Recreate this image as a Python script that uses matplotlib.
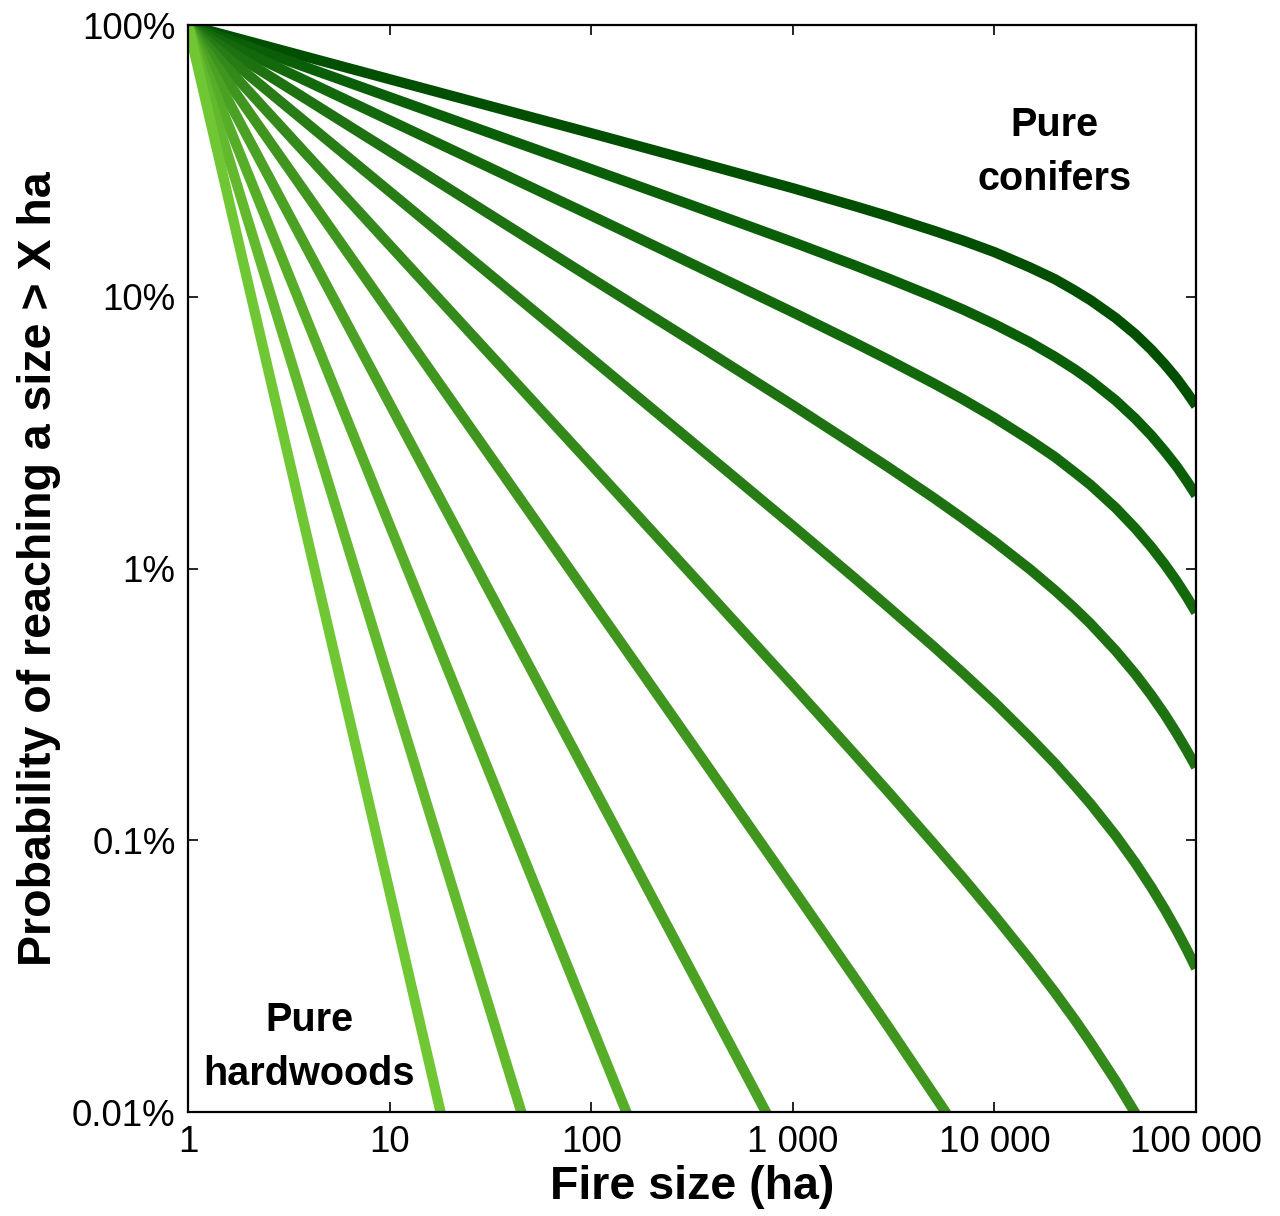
import matplotlib
matplotlib.use("Agg")
import matplotlib.pyplot as plt
import numpy as np

plt.rcParams['font.family'] = ['Liberation Sans', 'DejaVu Sans']

# fire size grid (ha) shared by all curves
fire_size = [1, 10, 100, 300, 1000, 2000, 3000, 5000, 7000, 10000, 15000,
             20000, 25000, 30000, 40000, 50000, 60000, 70000, 80000, 90000, 100000]

# probability (%) of reaching a size > X
# from pure conifers (top) to pure hardwoods (bottom); None = off the chart
N = None
p_conif_100 = [100, 63.2, 40.0, 32.05, 25.1, 21.63, 19.76, 17.5, 16.09, 14.6, 12.83,
               11.6, 10.55, 9.71, 8.35, 7.28, 6.39, 5.64, 5.01, 4.45, 3.97]
p_conif_90 = [100, 54.3, 29.5, 22.0, 15.9, 13.1, 11.65, 9.99, 8.97, 7.93, 6.80,
              6.01, 5.41, 4.92, 4.15, 3.56, 3.09, 2.70, 2.38, 2.10, 1.86]
p_conif_80 = [100, 44.6, 19.9, 13.47, 8.77, 6.81, 5.85, 4.80, 4.19, 3.59, 2.97,
              2.57, 2.26, 2.03, 1.67, 1.405, 1.20, 1.035, 0.90, 0.786, 0.690]
p_conif_70 = [100, 34.3, 11.7, 7.03, 3.99, 2.86, 2.35, 1.82, 1.526, 1.257, 0.994,
              0.830, 0.714, 0.626, 0.498, 0.409, 0.342, 0.290, 0.248, 0.214, 0.186]
p_conif_60 = [100, 24.4, 5.94, 3.02, 1.435, 0.930, 0.718, 0.516, 0.412, 0.322, 0.239,
              0.1915, 0.159, 0.136, 0.1039, 0.0825, 0.0672, 0.0557, 0.0467, 0.0396, 0.0338]
p_conif_50 = [100, 15.5, 2.41, 0.988, 0.371, 0.2096, 0.1496, 0.0971, 0.0726, 0.0529, 0.0364,
              0.0275, 0.0219, 0.0180, 0.0130, 0.0099, 0.0078, N, N, N, N]
p_conif_40 = [100, 8.75, 0.765, 0.239, 0.0664, 0.0316, 0.0204, 0.0116, 0.0080,
              N, N, N, N, N, N, N, N, N, N, N, N]
p_conif_30 = [100, 4.04, 0.163, 0.0351, 0.0065, N, N, N, N, N, N, N, N, N, N, N, N, N, N, N, N]
p_conif_20 = [100, 1.445, 0.0209, 0.00277, N, N, N, N, N, N, N, N, N, N, N, N, N, N, N, N, N]
p_conif_10 = [100, 0.380, 0.00145, N, N, N, N, N, N, N, N, N, N, N, N, N, N, N, N, N, N]
p_conif_0 = [100, 0.0646, 0.00004, N, N, N, N, N, N, N, N, N, N, N, N, N, N, N, N, N, N]

series = [p_conif_100, p_conif_90, p_conif_80, p_conif_70, p_conif_60, p_conif_50,
          p_conif_40, p_conif_30, p_conif_20, p_conif_10, p_conif_0]
colors = ['#004f00', '#0b5e08', '#14680c', '#1d7110', '#277c15', '#33891a',
          '#3f951e', '#4aa123', '#56ad28', '#62b92d', '#6fc733']

y_ticks = [0.01, 0.1, 1, 10, 100]
y_ticklabels = ['0.01%', '0.1%', '1%', '10%', '100%']
x_ticks = [1, 10, 100, 1000, 10000, 100000]
x_ticklabels = ['1', '10', '100', '1 000', '10 000', '100 000']

fig = plt.figure(figsize=(12.8, 12.16), dpi=100)
ax = fig.add_axes([0.1469, 0.0855, 0.7875, 0.8939])

for vals, col in zip(series, colors):
    x = np.array([f for f, v in zip(fire_size, vals) if v is not None], dtype=float)
    y = np.array([v for v in vals if v is not None], dtype=float)
    ax.plot(x, y, color=col, lw=7.4, solid_capstyle='butt', solid_joinstyle='round')

ax.set_xscale('log')
ax.set_yscale('log')
ax.set_xlim(1, 100000)
ax.set_ylim(0.01, 100)

ax.set_xticks(x_ticks)
ax.set_xticklabels(x_ticklabels, fontsize=26.5)
ax.set_yticks(y_ticks)
ax.set_yticklabels(y_ticklabels, fontsize=26.5)
ax.minorticks_off()
ax.tick_params(which='major', direction='in', length=7, width=1.2,
               top=True, right=True, pad=9)
for sp in ax.spines.values():
    sp.set_linewidth(1.6)

ax.set_xlabel('Fire size (ha)', fontsize=33.5, fontweight='bold', labelpad=4)
ax.set_ylabel('Probability of reaching a size > X ha', fontsize=33.5,
              fontweight='bold', labelpad=8)

ax.text(0.860, 0.883, 'Pure\nconifers', transform=ax.transAxes, ha='center',
        va='center', fontsize=28.5, fontweight='bold', linespacing=1.55)
ax.text(0.120, 0.0600, 'Pure\nhardwoods', transform=ax.transAxes, ha='center',
        va='center', fontsize=28.5, fontweight='bold', linespacing=1.55)

fig.savefig('out.png', dpi=100)
